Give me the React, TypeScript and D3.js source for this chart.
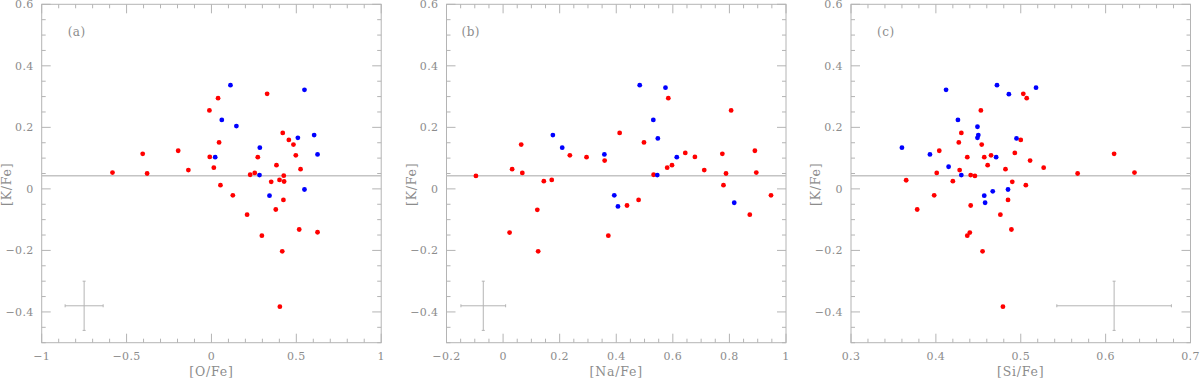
import React from 'react';
import * as d3 from 'd3';

// [O/Fe], [K/Fe]
const oFeRed = [
  [-0.583, 0.053], [-0.405, 0.114], [-0.379, 0.05], [-0.196, 0.124], [-0.136, 0.061],
  [-0.012, 0.255], [0.039, 0.295], [-0.01, 0.104], [0.045, 0.151], [0.014, 0.069],
  [0.053, 0.012], [0.126, -0.021], [0.21, -0.084], [0.228, 0.046], [0.255, 0.052],
  [0.273, 0.103], [0.297, -0.152], [0.328, 0.309], [0.352, 0.023], [0.383, 0.077],
  [0.379, -0.067], [0.401, 0.029], [0.42, 0.182], [0.426, 0.043], [0.428, 0.024],
  [0.424, -0.036], [0.417, -0.203], [0.403, -0.383], [0.456, 0.159], [0.483, 0.144],
  [0.497, 0.109], [0.525, 0.064], [0.517, -0.132], [0.625, -0.141],
];
const oFeBlue = [
  [0.112, 0.337], [0.061, 0.224], [0.147, 0.204], [0.022, 0.103], [0.285, 0.134],
  [0.283, 0.045], [0.342, -0.022], [0.548, 0.322], [0.509, 0.166], [0.605, 0.175],
  [0.625, 0.112], [0.548, -0.002],
];

// [Na/Fe], [K/Fe]
const naFeRed = [
  [-0.096, 0.042], [0.023, -0.142], [0.032, 0.064], [0.064, 0.144], [0.068, 0.052],
  [0.121, -0.068], [0.124, -0.203], [0.144, 0.025], [0.172, 0.029], [0.236, 0.109],
  [0.295, 0.103], [0.359, 0.092], [0.372, -0.152], [0.412, 0.182], [0.438, -0.054],
  [0.479, -0.036], [0.498, 0.151], [0.532, 0.046], [0.58, 0.069], [0.584, 0.295],
  [0.597, 0.077], [0.644, 0.117], [0.678, 0.104], [0.711, 0.061], [0.775, 0.114],
  [0.779, 0.012], [0.788, 0.05], [0.806, 0.255], [0.872, -0.084], [0.89, 0.124],
  [0.895, 0.053], [0.947, -0.021],
];
const naFeBlue = [
  [0.176, 0.175], [0.209, 0.134], [0.358, 0.112], [0.393, -0.021], [0.406, -0.057],
  [0.483, 0.337], [0.531, 0.224], [0.547, 0.164], [0.545, 0.045], [0.574, 0.329],
  [0.614, 0.103], [0.817, -0.045],
];

// [Si/Fe], [K/Fe]
const siFeRed = [
  [0.365, 0.028], [0.378, -0.067], [0.398, -0.021], [0.401, 0.052], [0.404, 0.124],
  [0.42, 0.025], [0.427, 0.151], [0.428, 0.061], [0.43, 0.182], [0.437, 0.103],
  [0.437, -0.152], [0.44, -0.142], [0.441, -0.054], [0.441, 0.045], [0.446, 0.042],
  [0.453, 0.255], [0.454, 0.144], [0.455, -0.203], [0.457, 0.103], [0.461, 0.077],
  [0.465, 0.109], [0.476, -0.084], [0.479, -0.383], [0.482, 0.064], [0.485, -0.036],
  [0.489, -0.132], [0.49, 0.023], [0.493, 0.117], [0.5, 0.159], [0.503, 0.309],
  [0.507, 0.295], [0.506, 0.012], [0.511, 0.092], [0.527, 0.069], [0.567, 0.05],
  [0.61, 0.114], [0.634, 0.053],
];
const siFeBlue = [
  [0.36, 0.134], [0.393, 0.112], [0.412, 0.322], [0.415, 0.072], [0.426, 0.224],
  [0.43, 0.045], [0.449, 0.202], [0.45, 0.175], [0.449, 0.166], [0.457, -0.022],
  [0.458, -0.045], [0.467, -0.008], [0.471, 0.103], [0.472, 0.337], [0.486, 0.308],
  [0.485, -0.002], [0.495, 0.164], [0.518, 0.329],
];

const xDomains = [[-1, 1], [-0.2, 1], [0.3, 0.7]];
const xMajor = [[-1, -0.5, 0, 0.5, 1], [-0.2, 0, 0.2, 0.4, 0.6, 0.8, 1], [0.3, 0.4, 0.5, 0.6, 0.7]];
const xMinorStep = [0.1, 0.05, 0.02];
const xTitles = ['[O/Fe]', '[Na/Fe]', '[Si/Fe]'];
const panelTags = ['(a)', '(b)', '(c)'];
const yDomain = [-0.5, 0.6];
const yMajor = [-0.4, -0.2, 0, 0.2, 0.4, 0.6];
const yMinorStep = 0.05;
const solarLine = 0.043;
// error cross: x, y, dx, dy
const errCross = [[-0.75, -0.38, 0.112, 0.08], [-0.07, -0.38, 0.079, 0.08], [0.61, -0.38, 0.0675, 0.08]];

const lefts = [41.7, 446.5, 851];
const tagOffset = [26, 15, 26];
const W = 339.5;
const top = 4.3, bottom = 342.7;
const axisCol = '#b4b4b4';
const textCol = '#8c8c8c';
const font = 'DejaVu Serif';

const fmt = (v: number) => String(+v.toFixed(2)).replace('-', '\u2212');

function range(a: number, b: number, s: number) {
  const out: number[] = [];
  const n = Math.round((b - a) / s);
  for (let i = 0; i <= n; i++) out.push(+(a + i * s).toFixed(4));
  return out;
}

function Panel({ i, red, blue }: { i: number; red: number[][]; blue: number[][] }) {
  const L = lefts[i], R = L + W;
  const x = d3.scaleLinear().domain(xDomains[i]).range([L, R]);
  const y = d3.scaleLinear().domain(yDomain).range([bottom, top]);
  const xMin = range(xDomains[i][0], xDomains[i][1], xMinorStep[i]);
  const yMin = range(yDomain[0], yDomain[1], yMinorStep);
  const [ex, ey, edx, edy] = errCross[i];
  const cap = 1.5;
  return (
    <g>
      <rect x={L} y={top} width={W} height={bottom - top} fill="none" stroke={axisCol} strokeWidth={1} />
      {xMin.map((t, k) => {
        const maj = xMajor[i].some(m => Math.abs(m - t) < 1e-6);
        const len = maj ? 9 : 4;
        return (
          <g key={'x' + k}>
            <line x1={x(t)} x2={x(t)} y1={bottom} y2={bottom - len} stroke={axisCol} />
            <line x1={x(t)} x2={x(t)} y1={top} y2={top + len} stroke={axisCol} />
          </g>
        );
      })}
      {yMin.map((t, k) => {
        const maj = yMajor.some(m => Math.abs(m - t) < 1e-6);
        const len = maj ? 9 : 4;
        return (
          <g key={'y' + k}>
            <line x1={L} x2={L + len} y1={y(t)} y2={y(t)} stroke={axisCol} />
            <line x1={R} x2={R - len} y1={y(t)} y2={y(t)} stroke={axisCol} />
          </g>
        );
      })}
      {xMajor[i].map(t => (
        <text key={'xl' + t} x={x(t)} y={360} textAnchor="middle" fontSize={11} letterSpacing={0.4} fill={textCol} fontFamily={font}>{fmt(t)}</text>
      ))}
      {yMajor.map(t => (
        <text key={'yl' + t} x={L - 8} y={y(t) + 4} textAnchor="end" fontSize={11} letterSpacing={0.4} fill={textCol} fontFamily={font}>{fmt(t)}</text>
      ))}
      <text x={L + W / 2} y={376} textAnchor="middle" fontSize={12.5} letterSpacing={0.8} fill={textCol} fontFamily={font}>{xTitles[i]}</text>
      <text transform={`translate(${L - 31},${y(0.015)}) rotate(-90)`} textAnchor="middle" fontSize={12.5} letterSpacing={0.8} fill={textCol} fontFamily={font}>[K/Fe]</text>
      <text x={L + tagOffset[i]} y={36} fontSize={12} letterSpacing={0.5} fill={textCol} fontFamily={font}>{panelTags[i]}</text>
      <line x1={L} x2={R} y1={y(solarLine)} y2={y(solarLine)} stroke="#c4c4c4" strokeWidth={1.5} />
      <g stroke={axisCol} strokeWidth={1}>
        <line x1={x(ex - edx)} x2={x(ex + edx)} y1={y(ey)} y2={y(ey)} />
        <line x1={x(ex)} x2={x(ex)} y1={y(ey - edy)} y2={y(ey + edy)} />
        <line x1={x(ex - edx)} x2={x(ex - edx)} y1={y(ey) - cap} y2={y(ey) + cap} />
        <line x1={x(ex + edx)} x2={x(ex + edx)} y1={y(ey) - cap} y2={y(ey) + cap} />
        <line x1={x(ex) - cap} x2={x(ex) + cap} y1={y(ey - edy)} y2={y(ey - edy)} />
        <line x1={x(ex) - cap} x2={x(ex) + cap} y1={y(ey + edy)} y2={y(ey + edy)} />
      </g>
      {red.map((d, k) => <circle key={'r' + k} cx={x(d[0])} cy={y(d[1])} r={2.4} fill="#ff0000" />)}
      {blue.map((d, k) => <circle key={'b' + k} cx={x(d[0])} cy={y(d[1])} r={2.4} fill="#0000ff" />)}
    </g>
  );
}

export default function App() {
  return (
    <svg width={1200} height={380} style={{ position: 'absolute', left: 0, top: 0, background: '#fff' }}>
      <Panel i={0} red={oFeRed} blue={oFeBlue} />
      <Panel i={1} red={naFeRed} blue={naFeBlue} />
      <Panel i={2} red={siFeRed} blue={siFeBlue} />
    </svg>
  );
}
